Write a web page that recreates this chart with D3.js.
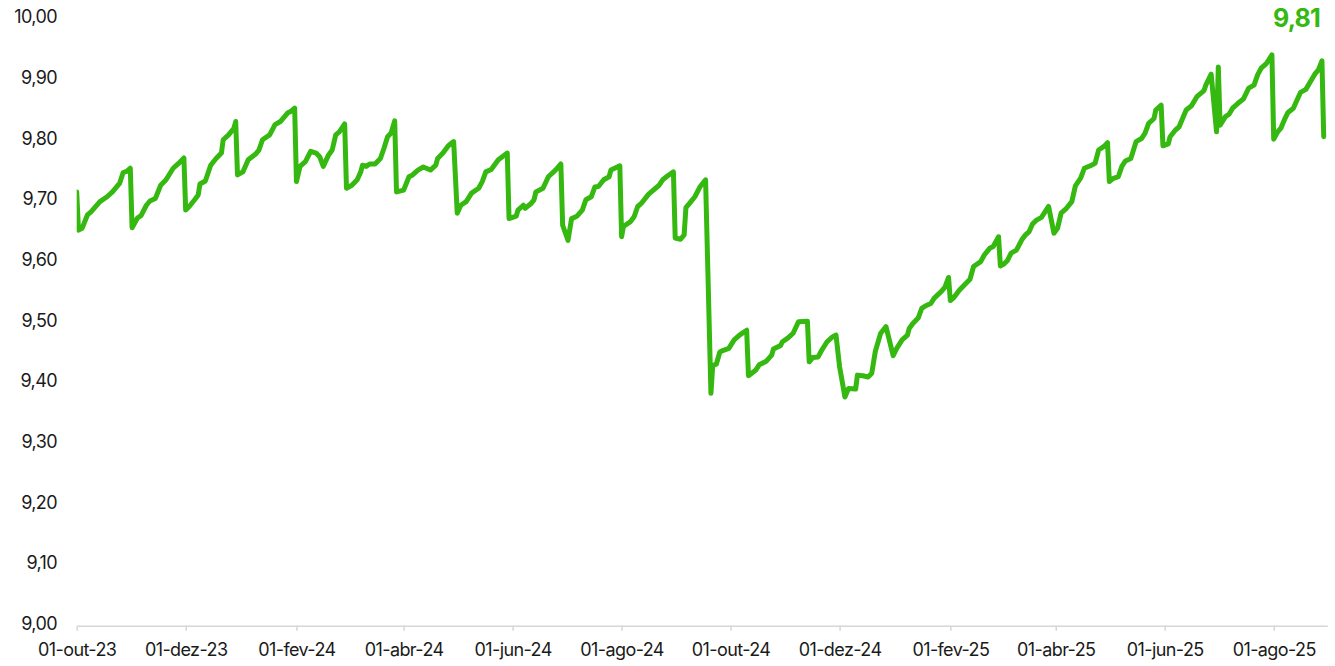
<!DOCTYPE html>
<html><head><meta charset="utf-8">
<script src="https://cdn.jsdelivr.net/npm/d3@7"></script>
<style>body{margin:0;background:#fff} svg{display:block}</style>
</head><body>
<svg id="chart" width="1335" height="666"></svg>
<script>
const dates = [
"2023-10-01","2023-10-02","2023-10-04","2023-10-07","2023-10-09","2023-10-14","2023-10-18","2023-10-21","2023-10-23","2023-10-25","2023-10-27","2023-10-29","2023-10-31",
"2023-11-01","2023-11-04","2023-11-06","2023-11-09","2023-11-11","2023-11-14","2023-11-17","2023-11-20","2023-11-24","2023-11-27","2023-11-30",
"2023-12-01","2023-12-03","2023-12-06","2023-12-08","2023-12-09","2023-12-12","2023-12-15","2023-12-18","2023-12-21","2023-12-22","2023-12-25","2023-12-28","2023-12-29","2023-12-30",
"2024-01-02","2024-01-05","2024-01-09","2024-01-11","2024-01-13","2024-01-17","2024-01-20","2024-01-23","2024-01-27","2024-01-29","2024-01-31",
"2024-02-01","2024-02-03","2024-02-06","2024-02-09","2024-02-12","2024-02-14","2024-02-16","2024-02-19","2024-02-21","2024-02-23","2024-02-25","2024-02-28","2024-02-29",
"2024-03-03","2024-03-06","2024-03-08","2024-03-09","2024-03-11","2024-03-13","2024-03-16","2024-03-19","2024-03-21","2024-03-23","2024-03-25","2024-03-27","2024-03-28",
"2024-04-01","2024-04-04","2024-04-06","2024-04-09","2024-04-12","2024-04-16","2024-04-19","2024-04-20","2024-04-23","2024-04-26","2024-04-29",
"2024-05-01","2024-05-03","2024-05-06","2024-05-09","2024-05-13","2024-05-15","2024-05-17","2024-05-20","2024-05-24","2024-05-29","2024-05-30",
"2024-06-03","2024-06-04","2024-06-07","2024-06-08","2024-06-11","2024-06-13","2024-06-14","2024-06-18","2024-06-21","2024-06-25","2024-06-28","2024-06-29",
"2024-07-02","2024-07-04","2024-07-07","2024-07-10","2024-07-12","2024-07-15","2024-07-17","2024-07-19","2024-07-22","2024-07-25","2024-07-26","2024-07-31",
"2024-08-01","2024-08-02","2024-08-06","2024-08-08","2024-08-10","2024-08-12","2024-08-16","2024-08-20","2024-08-22","2024-08-24","2024-08-27","2024-08-30","2024-08-31",
"2024-09-03","2024-09-05","2024-09-06","2024-09-08","2024-09-11","2024-09-14","2024-09-17","2024-09-20","2024-09-21","2024-09-23","2024-09-25","2024-09-27","2024-09-30",
"2024-10-03","2024-10-06","2024-10-10","2024-10-11","2024-10-15","2024-10-17","2024-10-21","2024-10-24","2024-10-25","2024-10-29","2024-10-30",
"2024-11-02","2024-11-05","2024-11-08","2024-11-13","2024-11-14","2024-11-16","2024-11-19","2024-11-21","2024-11-24","2024-11-27","2024-11-29",
"2024-12-01","2024-12-04","2024-12-06","2024-12-10","2024-12-11","2024-12-14","2024-12-17","2024-12-19","2024-12-21","2024-12-24","2024-12-27","2024-12-31",
"2025-01-02","2025-01-05","2025-01-08","2025-01-09","2025-01-11","2025-01-14","2025-01-16","2025-01-18","2025-01-21","2025-01-23","2025-01-27","2025-01-29","2025-01-31",
"2025-02-01","2025-02-03","2025-02-06","2025-02-09","2025-02-12","2025-02-14","2025-02-18","2025-02-20","2025-02-23","2025-02-25","2025-02-28",
"2025-03-01","2025-03-03","2025-03-05","2025-03-07","2025-03-10","2025-03-13","2025-03-15","2025-03-17","2025-03-19","2025-03-21","2025-03-24","2025-03-28","2025-03-31",
"2025-04-02","2025-04-04","2025-04-07","2025-04-10","2025-04-12","2025-04-15","2025-04-17","2025-04-21","2025-04-23","2025-04-25","2025-04-28","2025-04-30",
"2025-05-01","2025-05-03","2025-05-06","2025-05-08","2025-05-10","2025-05-13","2025-05-14","2025-05-16","2025-05-19","2025-05-21","2025-05-23","2025-05-26","2025-05-27","2025-05-30","2025-05-31",
"2025-06-03","2025-06-04","2025-06-07","2025-06-09","2025-06-11","2025-06-13","2025-06-16","2025-06-19","2025-06-23","2025-06-24","2025-06-27","2025-06-30",
"2025-07-01","2025-07-02","2025-07-05","2025-07-07","2025-07-09","2025-07-12","2025-07-15","2025-07-18","2025-07-21","2025-07-23","2025-07-25","2025-07-28","2025-07-31",
"2025-08-01","2025-08-03","2025-08-05","2025-08-07","2025-08-09","2025-08-12","2025-08-14","2025-08-16","2025-08-19","2025-08-22","2025-08-24","2025-08-26","2025-08-28","2025-08-29"
];
const values = [
9.715,9.652,9.655,9.677,9.682,9.699,9.707,9.715,9.722,9.729,9.747,9.749,9.754,
9.656,9.672,9.676,9.693,9.700,9.704,9.726,9.735,9.754,9.762,9.771,
9.685,9.691,9.702,9.710,9.728,9.733,9.759,9.770,9.779,9.801,9.809,9.820,9.831,9.743,
9.748,9.768,9.777,9.784,9.801,9.809,9.826,9.831,9.845,9.848,9.853,
9.732,9.757,9.765,9.782,9.779,9.773,9.757,9.776,9.784,9.809,9.814,9.827,9.721,
9.726,9.735,9.748,9.759,9.757,9.761,9.761,9.770,9.787,9.806,9.812,9.832,9.715,
9.718,9.740,9.743,9.751,9.756,9.751,9.759,9.770,9.779,9.791,9.798,
9.680,9.693,9.699,9.713,9.721,9.732,9.748,9.752,9.768,9.779,9.671,
9.675,9.685,9.693,9.688,9.695,9.702,9.715,9.721,9.740,9.751,9.761,9.660,
9.635,9.671,9.675,9.685,9.702,9.707,9.723,9.724,9.735,9.740,9.751,9.758,
9.641,9.658,9.666,9.674,9.691,9.696,9.711,9.721,9.726,9.735,9.742,9.748,9.639,
9.637,9.644,9.689,9.696,9.707,9.724,9.735,9.383,9.429,9.431,9.451,9.454,9.457,
9.471,9.479,9.487,9.412,9.421,9.430,9.436,9.446,9.456,9.462,9.468,
9.474,9.482,9.501,9.502,9.435,9.442,9.443,9.454,9.468,9.476,9.479,
9.427,9.377,9.391,9.390,9.413,9.412,9.410,9.416,9.452,9.482,9.493,9.445,
9.457,9.471,9.479,9.490,9.498,9.507,9.523,9.527,9.531,9.540,9.551,9.558,9.574,
9.536,9.541,9.553,9.562,9.571,9.592,9.600,9.611,9.622,9.625,9.641,
9.593,9.596,9.602,9.614,9.619,9.636,9.644,9.649,9.662,9.668,9.673,9.691,9.647,
9.655,9.680,9.688,9.699,9.725,9.738,9.754,9.759,9.762,9.784,9.790,9.796,
9.732,9.737,9.740,9.757,9.766,9.770,9.779,9.798,9.803,9.812,9.828,9.836,9.850,9.858,9.791,
9.794,9.806,9.817,9.822,9.836,9.850,9.857,9.872,9.882,9.891,9.909,9.814,
9.921,9.825,9.839,9.843,9.853,9.861,9.868,9.886,9.891,9.908,9.919,9.927,9.941,
9.802,9.813,9.820,9.834,9.846,9.853,9.866,9.879,9.884,9.899,9.909,9.916,9.931,9.806
];
const yTicks = [9.0, 9.1, 9.2, 9.3, 9.4, 9.5, 9.6, 9.7, 9.8, 9.9, 10.0];
const xTickDates = ["2023-10-01","2023-12-01","2024-02-01","2024-04-01","2024-06-01","2024-08-01","2024-10-01","2024-12-01","2025-02-01","2025-04-01","2025-06-01","2025-08-01"];
const monthNames = ["jan","fev","mar","abr","mai","jun","jul","ago","set","out","nov","dez"];
const xDomain = ["2023-10-01","2025-08-31"];

(function () {
const parse = d3.utcParse("%Y-%m-%d");
const data = dates.map((d, i) => ({date: parse(d), value: values[i]}));
const pLeft = 76.7, pRight = 1327.3, pTop = 19, pBottom = 625.7;

const x = d3.scaleUtc().domain(xDomain.map(parse)).range([pLeft, pRight]);
const y = d3.scaleLinear().domain([9, 10]).range([pBottom, pTop]);

const ptLocale = d3.formatLocale({decimal: ",", thousands: ".", grouping: [3], currency: ["R$", ""]});
const fmt = ptLocale.format(".2f");
const green = "#35b80f";
const font = "Inter, 'Liberation Sans', sans-serif";

const svg = d3.select("#chart");

svg.append("defs").append("clipPath").attr("id", "clip")
  .append("rect").attr("x", pLeft).attr("y", 0).attr("width", pRight - pLeft + 10).attr("height", 666);

const xAxis = d3.axisBottom(x)
  .tickValues(xTickDates.map(parse))
  .tickSize(5)
  .tickSizeOuter(0)
  .tickFormat(d => "01-" + monthNames[d.getUTCMonth()] + "-" + String(d.getUTCFullYear()).slice(2));
const gx = svg.append("g").attr("transform", `translate(0,${pBottom})`).call(xAxis);
gx.select(".domain").attr("stroke", "#d6d6d6").attr("stroke-width", 1.5);
gx.selectAll(".tick line").attr("stroke", "#d6d6d6").attr("stroke-width", 1.5);
gx.selectAll(".tick text").attr("font-family", font).attr("font-size", 18).attr("fill", "#1a1a1a")
  .attr("dy", "0").attr("y", 30).attr("letter-spacing", "-0.6");

const yAxis = d3.axisLeft(y).tickValues(yTicks).tickSize(0).tickPadding(0).tickFormat(d => fmt(d));
const gy = svg.append("g").attr("transform", `translate(57,-2)`).call(yAxis);
gy.select(".domain").remove();
gy.selectAll(".tick text").attr("font-family", font).attr("font-size", 18).attr("fill", "#1a1a1a")
  .attr("letter-spacing", "-0.6");

const line = d3.line().x(d => x(d.date)).y(d => y(d.value));
svg.append("path").datum(data)
  .attr("clip-path", "url(#clip)")
  .attr("d", line)
  .attr("fill", "none")
  .attr("stroke", green)
  .attr("stroke-width", 5)
  .attr("stroke-linejoin", "round")
  .attr("stroke-linecap", "round");

const last = data[data.length - 1];
svg.append("text")
  .attr("x", 1320).attr("y", 27)
  .attr("text-anchor", "end")
  .attr("font-family", font).attr("font-size", 25).attr("font-weight", 700)
  .attr("letter-spacing", "-0.8")
  .attr("fill", green)
  .text(fmt(last.value));
})();
</script>
</body></html>
